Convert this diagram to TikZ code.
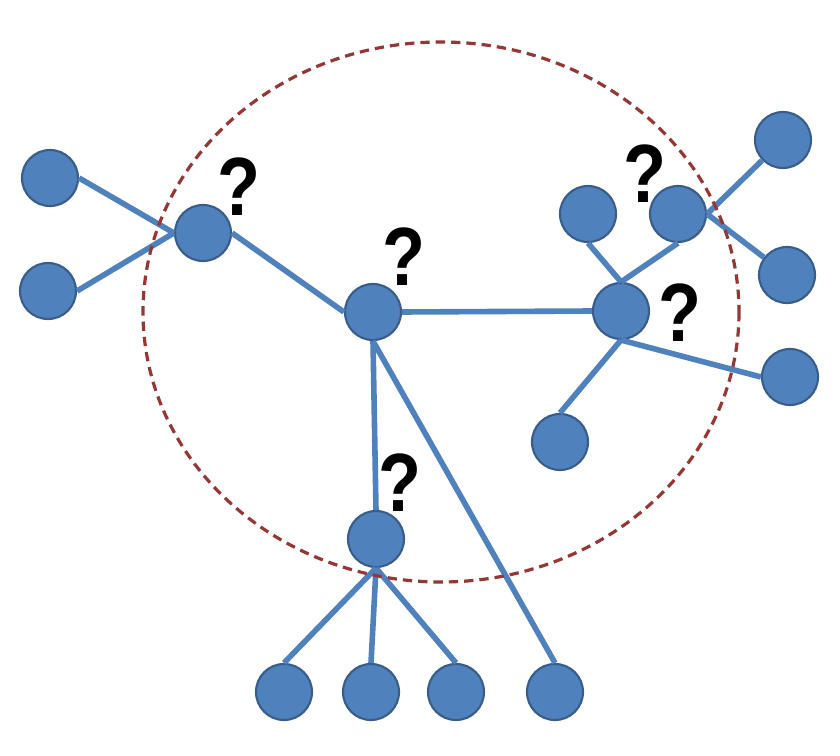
\documentclass[tikz,border=0pt]{standalone}
\usepackage{fontspec}
\newfontfamily\qfont{Liberation Sans}
\definecolor{dotfill}{RGB}{79,129,189}
\definecolor{dotline}{RGB}{56,93,138}
\definecolor{ringred}{RGB}{149,55,53}
\newcommand{\qsign}{\scalebox{0.85}[1]{?}}
\tikzset{every picture/.style={line width=0.75pt}}
\tikzset{
  dot/.style={circle, draw=dotline, fill=dotfill, line width=1.6pt, minimum size=42pt, inner sep=0pt},
  link/.style={draw=dotfill, line width=4.2pt},
  qmark/.style={font=\qfont\bfseries\fontsize{62pt}{62pt}\selectfont, inner sep=0pt}
}

\begin{document}
\begin{tikzpicture}[x=0.75pt,y=0.75pt,yscale=-1,xscale=1]
\useasboundingbox (0,0) rectangle (840,756);

%Circles
\node [dot] (leftA) at (50,178) {};
\node [dot] (leftB) at (48,291) {};
\node [dot] (hubL) at (203,233) {};
\node [dot] (core) at (373,312) {};
\node [dot] (hubR) at (621,311) {};
\node [dot] (rA) at (588,214) {};
\node [dot] (rB) at (678,214) {};
\node [dot] (farTop) at (783,140) {};
\node [dot] (farMid) at (787,275) {};
\node [dot] (farLow) at (790,377) {};
\node [dot] (rLow) at (560,442) {};
\node [dot] (hubB) at (376,539) {};
\node [dot] (bA) at (284,692) {};
\node [dot] (bB) at (371,692) {};
\node [dot] (bC) at (456,692) {};
\node [dot] (bD) at (555,692) {};

%Straight Lines
\draw [link] (leftA.east) -- (hubL.west);
\draw [link] (leftB.east) -- (hubL.west);
\draw [link] (hubL.east) -- (core.west);
\draw [link] (core.east) -- (hubR.west);
\draw [link] (core.south) -- (hubB.north);
\draw [link] (core.south) -- (bD.north);
\draw [link] (hubB.south) -- (bA.north);
\draw [link] (hubB.south) -- (bB.north);
\draw [link] (hubB.south) -- (bC.north);
\draw [link] (rA.south) -- (hubR.north);
\draw [link] (rB.south) -- (hubR.north);
\draw [link] (rB.east) -- (farTop);
\draw [link] (rB.east) -- (farMid);
\draw [link] (hubR.south) -- (farLow.west);
\draw [link] (hubR.south) -- (rLow.north);

%Dashed Ellipse
\draw [color=ringred, line width=2.4pt, dash pattern={on 7pt off 4.5pt}] (441,312) ellipse [x radius=298, y radius=270];

% Text Node
\node [qmark] (qL) at (239,187) {\qsign};
% Text Node
\node [qmark] (qC) at (404,257) {\qsign};
% Text Node
\node [qmark] (qB) at (400,483) {\qsign};
% Text Node
\node [qmark] (qRB) at (645,174) {\qsign};
% Text Node
\node [qmark] (qR) at (680,313) {\qsign};

\end{tikzpicture}
\end{document}
